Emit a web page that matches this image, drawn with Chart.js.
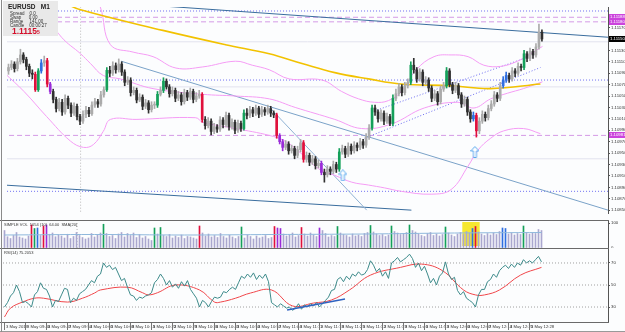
<!DOCTYPE html>
<html><head><meta charset="utf-8">
<script src="https://cdn.jsdelivr.net/npm/chart.js@4.4.1/dist/chart.umd.min.js"></script>
<style>
html,body{margin:0;padding:0;background:#fff;overflow:hidden}
#wrap{position:relative;width:625px;height:332px;background:#fcfdfe;overflow:hidden;font-family:"Liberation Sans",Arial,sans-serif}
#wrap canvas{position:absolute;left:0}
.hl{position:absolute;height:1px;background:#6a6a6a}
.vl{position:absolute;width:1px;background:#8a8a8a}
.txt{position:absolute;white-space:pre;color:#333;font-size:4.5px;line-height:5px}
#info{position:absolute;left:3px;top:1px;width:55px;height:35px;background:#e9e9e9}
</style></head><body>
<div id="wrap">
<canvas id="main" width="625" height="220" style="top:0"></canvas>
<canvas id="vol" width="625" height="27" style="top:221px"></canvas>
<canvas id="rsi" width="625" height="83" style="top:249px"></canvas>
<div class="hl" style="left:0;top:220px;width:609px"></div>
<div class="hl" style="left:0;top:248px;width:609px"></div>
<div class="hl" style="left:0;top:322px;width:609px"></div>
<div class="hl" style="left:0;top:331px;width:625px;background:#999"></div>
<div class="vl" style="left:1px;top:0;height:332px"></div>
<div id="info">
 <div class="txt" style="left:5px;top:2px;font-size:6.5px;line-height:7px;font-weight:bold;color:#222">EURUSD   M1</div>
 <div class="txt" style="left:7px;top:10px">Spread    0.0</div>
 <div class="txt" style="left:7px;top:14px">Swap      0.00</div>
 <div class="txt" style="left:7px;top:18px">Range     141.00</div>
 <div class="txt" style="left:7px;top:22px">Candle    00:00:27</div>
 <div class="txt" style="left:9px;top:26px;font-size:8.5px;line-height:9px;font-weight:bold;color:#d4102c">1.1115<span style="font-size:5px">5</span></div>
</div>
<div class="txt" style="left:4px;top:222px;font-size:4px">SIMPLE VOL  1054 (10)  64.00  SMA(20)</div>
<div class="txt" style="left:4px;top:250px;font-size:4px">RSI(14) 75.2053</div>
</div>
<script>
// ---------------- DATA ----------------
const opens = [1.11094,1.11100,1.11106,1.11098,1.11110,1.11122,1.11114,1.11102,1.11090,1.11088,
1.11061,1.11094,1.11108,1.11112,1.11071,1.11058,1.11044,1.11028,1.11039,1.11022,
1.11046,1.11034,1.11020,1.11032,1.11014,1.11006,1.11018,1.11025,1.11019,1.11034,
1.11040,1.11036,1.11052,1.11061,1.11095,1.11090,1.11103,1.11096,1.11106,1.11092,
1.11074,1.11078,1.11056,1.11060,1.11043,1.11048,1.11032,1.11038,1.11026,1.11034,
1.11034,1.11053,1.11060,1.11076,1.11066,1.11054,1.11060,1.11046,1.11052,1.11040,
1.11056,1.11048,1.11058,1.11044,1.11050,1.11053,1.11009,1.10998,1.11006,1.10988,
1.10996,1.10992,1.11008,1.11000,1.11016,1.10996,1.11004,1.10990,1.11002,1.10993,
1.11020,1.11016,1.11026,1.11020,1.11029,1.11018,1.11026,1.11022,1.11028,1.11020,
1.11017,1.10981,1.10970,1.10960,1.10966,1.10954,1.10958,1.10946,1.10956,1.10968,
1.10939,1.10946,1.10934,1.10940,1.10928,1.10932,1.10916,1.10912,1.10922,1.10918,
1.10930,1.10922,1.10952,1.10958,1.10948,1.10962,1.10954,1.10964,1.10960,1.10970,
1.10964,1.10978,1.10994,1.11029,1.11022,1.11010,1.11020,1.11006,1.11014,1.11002,
1.11046,1.11054,1.11066,1.11056,1.11068,1.11074,1.11104,1.11096,1.11080,1.11092,
1.11074,1.11078,1.11064,1.11046,1.11054,1.11040,1.11062,1.11068,1.11094,1.11070,
1.11060,1.11068,1.11052,1.11036,1.11044,1.11022,1.11010,1.11016,1.10989,1.11006,
1.11018,1.11012,1.11028,1.11036,1.11052,1.11046,1.11068,1.11078,1.11086,1.11080,
1.11094,1.11090,1.11102,1.11100,1.11124,1.11116,1.11128,1.11122,1.11136,1.11162];
const highs = [1.11106,1.11112,1.11110,1.11116,1.11132,1.11126,1.11118,1.11106,1.11096,1.11092,
1.11098,1.11114,1.11120,1.11116,1.11074,1.11062,1.11048,1.11046,1.11044,1.11052,
1.11050,1.11038,1.11038,1.11036,1.11018,1.11024,1.11032,1.11030,1.11040,1.11046,
1.11044,1.11058,1.11066,1.11100,1.11102,1.11110,1.11108,1.11115,1.11110,1.11096,
1.11084,1.11082,1.11066,1.11064,1.11054,1.11052,1.11044,1.11042,1.11040,1.11040,
1.11058,1.11066,1.11082,1.11080,1.11070,1.11066,1.11064,1.11058,1.11056,1.11062,
1.11060,1.11064,1.11062,1.11056,1.11060,1.11056,1.11014,1.11012,1.11010,1.11002,
1.11000,1.11014,1.11012,1.11022,1.11020,1.11010,1.11008,1.11008,1.11006,1.11026,
1.11028,1.11032,1.11030,1.11034,1.11032,1.11032,1.11030,1.11034,1.11032,1.11024,
1.11020,1.10984,1.10974,1.10972,1.10970,1.10964,1.10962,1.10962,1.10974,1.10972,
1.10952,1.10950,1.10946,1.10944,1.10938,1.10936,1.10922,1.10928,1.10926,1.10936,
1.10934,1.10958,1.10964,1.10962,1.10968,1.10966,1.10970,1.10968,1.10976,1.10974,
1.10984,1.11000,1.11034,1.11034,1.11026,1.11026,1.11024,1.11020,1.11018,1.11052,
1.11062,1.11072,1.11070,1.11074,1.11080,1.11110,1.11116,1.11100,1.11098,1.11096,
1.11084,1.11082,1.11068,1.11060,1.11058,1.11068,1.11074,1.11100,1.11098,1.11074,
1.11074,1.11072,1.11056,1.11050,1.11048,1.11026,1.11022,1.11020,1.11012,1.11024,
1.11022,1.11034,1.11042,1.11058,1.11056,1.11074,1.11084,1.11092,1.11090,1.11100,
1.11098,1.11108,1.11106,1.11130,1.11128,1.11134,1.11132,1.11142,1.11176,1.11166];
const lows = [1.11088,1.11096,1.11092,1.11094,1.11106,1.11108,1.11096,1.11084,1.11080,1.11058,
1.11058,1.11090,1.11102,1.11066,1.11054,1.11038,1.11022,1.11024,1.11016,1.11018,
1.11028,1.11014,1.11016,1.11008,1.11000,1.11002,1.11012,1.11014,1.11016,1.11030,
1.11030,1.11032,1.11048,1.11058,1.11084,1.11086,1.11090,1.11092,1.11086,1.11068,
1.11070,1.11050,1.11052,1.11038,1.11040,1.11026,1.11028,1.11020,1.11022,1.11028,
1.11030,1.11050,1.11056,1.11062,1.11048,1.11050,1.11040,1.11042,1.11034,1.11036,
1.11042,1.11044,1.11038,1.11040,1.11046,1.11004,1.10992,1.10994,1.10982,1.10984,
1.10986,1.10988,1.10994,1.10996,1.10990,1.10992,1.10984,1.10986,1.10988,1.10990,
1.11010,1.11012,1.11014,1.11016,1.11012,1.11014,1.11016,1.11018,1.11014,1.11012,
1.10976,1.10966,1.10954,1.10956,1.10948,1.10950,1.10940,1.10942,1.10952,1.10934,
1.10934,1.10928,1.10930,1.10922,1.10924,1.10912,1.10899,1.10908,1.10912,1.10914,
1.10916,1.10918,1.10948,1.10942,1.10944,1.10948,1.10950,1.10954,1.10956,1.10958,
1.10960,1.10974,1.10990,1.11016,1.11004,1.11006,1.11000,1.11002,1.10998,1.10998,
1.11042,1.11050,1.11050,1.11052,1.11064,1.11070,1.11090,1.11074,1.11076,1.11068,
1.11070,1.11058,1.11040,1.11042,1.11034,1.11036,1.11058,1.11064,1.11066,1.11054,
1.11056,1.11046,1.11030,1.11032,1.11016,1.11004,1.11006,1.10978,1.10984,1.11002,
1.11006,1.11008,1.11024,1.11032,1.11040,1.11042,1.11064,1.11074,1.11074,1.11076,
1.11084,1.11086,1.11094,1.11096,1.11110,1.11112,1.11116,1.11118,1.11132,1.11146];
const closes = [1.11100,1.11106,1.11098,1.11110,1.11122,1.11114,1.11102,1.11090,1.11088,1.11061,
1.11094,1.11108,1.11112,1.11071,1.11058,1.11044,1.11028,1.11039,1.11022,1.11046,
1.11034,1.11020,1.11032,1.11014,1.11006,1.11018,1.11025,1.11019,1.11034,1.11040,
1.11036,1.11052,1.11061,1.11095,1.11090,1.11103,1.11096,1.11106,1.11092,1.11074,
1.11078,1.11056,1.11060,1.11043,1.11048,1.11032,1.11038,1.11026,1.11034,1.11034,
1.11053,1.11060,1.11076,1.11066,1.11054,1.11060,1.11046,1.11052,1.11040,1.11056,
1.11048,1.11058,1.11044,1.11050,1.11053,1.11009,1.10998,1.11006,1.10988,1.10996,
1.10992,1.11008,1.11000,1.11016,1.10996,1.11004,1.10990,1.11002,1.10993,1.11020,
1.11016,1.11026,1.11020,1.11029,1.11018,1.11026,1.11022,1.11028,1.11020,1.11017,
1.10981,1.10970,1.10960,1.10966,1.10954,1.10958,1.10946,1.10956,1.10968,1.10939,
1.10946,1.10934,1.10940,1.10928,1.10932,1.10916,1.10912,1.10922,1.10918,1.10930,
1.10922,1.10952,1.10958,1.10948,1.10962,1.10954,1.10964,1.10960,1.10970,1.10964,
1.10978,1.10994,1.11029,1.11022,1.11010,1.11020,1.11006,1.11014,1.11002,1.11046,
1.11054,1.11066,1.11056,1.11068,1.11074,1.11104,1.11096,1.11080,1.11092,1.11074,
1.11078,1.11064,1.11046,1.11054,1.11040,1.11062,1.11068,1.11094,1.11070,1.11060,
1.11068,1.11052,1.11036,1.11044,1.11022,1.11010,1.11016,1.10989,1.11006,1.11018,
1.11012,1.11028,1.11036,1.11052,1.11046,1.11068,1.11078,1.11086,1.11080,1.11094,
1.11090,1.11102,1.11100,1.11124,1.11116,1.11128,1.11122,1.11136,1.11162,1.11150];
// signal-coloured bars (index -> signal type)
const signalBars = {9:'sell',10:'buy',11:'info',13:'sell',14:'warn',33:'buy',50:'buy',52:'buy',65:'sell',79:'buy',
90:'sell',91:'warn',92:'warn',99:'sell',105:'warn',111:'buy',122:'buy',129:'buy',135:'buy',147:'buy',
156:'info',157:'sell',166:'info',167:'info',173:'buy'};
const volumes = [70,45,38,50,62,44,40,36,48,92, 78,80,50,88,92,55,60,45,52,48,
40,55,38,46,62,50,42,36,40,58, 44,52,60,95,58,46,50,38,56,62,
44,58,50,60,42,54,40,46,36,30, 80,56,82,50,46,54,40,48,42,52,
38,46,44,40,36,88,60,48,56,44, 50,42,58,46,40,52,44,38,46,84,
40,52,46,36,48,40,44,50,38,42, 86,80,78,56,48,52,60,44,50,82,
56,48,60,52,46,80,70,58,44,50, 46,86,60,54,50,44,56,48,52,46,
58,62,90,64,56,50,54,46,52,88, 66,60,54,58,62,92,70,64,56,50,
46,58,62,50,56,48,54,84,60,52, 46,56,62,54,66,60,78,86,64,56,
50,58,52,60,54,66,80,78,56,60, 52,58,54,88,62,56,60,58,74,70];
const volumeMA = [[0,52],[30,54],[60,52],[90,54],[120,56],[150,60],[179,62]];
const volumeAlertZone = [152.6, 158.4];
const rsiValues = [30,34,40,43,50,44,34,35,33,30, 41,44,52,47,46,40,30,36,35,41,
47,46,34,38,36,42,44,46,50,54, 52,58,60,70,66,68,64,66,60,54,
56,48,41,40,36,39,38,40,41,43, 52,55,60,56,50,54,48,51,47,53,
49,54,46,42,38,30,36,34,30,35, 39,38,39,44,43,46,48,46,52,58,
56,60,57,61,55,59,56,60,53,34, 32,30,33,31,29,30,27,29,33,28,
32,30,33,31,34,30,33,36,39,45, 46,55,57,53,58,55,60,58,62,59,
60,64,72,68,62,65,58,62,56,70, 72,75,71,73,75,78,74,66,70,63,
67,60,52,56,50,58,61,71,60,55, 57,45,41,44,38,36,34,30,41,46,
46,53,55,60,57,63,66,68,65,69, 66,70,68,73,70,72,70,73,76,71];
const rsiMA = [[0,21],[2,29],[6,34.5],[10,38],[13,38],[21,34.5],[26,38],[30,42.7],[32,45.5],[41,48],[46,43],[48,41],[51,43],
[57,50],[65,45.5],[70,34.5],[72,34.5],[77,38],[82,42.7],[89,45.5],[96,31],[103,33.6],[109,36.4],[115,45.5],
[122,59],[132,66],[139,69],[146,63],[153,45.5],[157,41],[160,41],[165,45.5],[172,59],[179,66]];
const rsiLevels = [70, 50, 30];
const rsiTrend = [[94.2, 27.3], [113.5, 37.3]];
// overlays (bar index, price)
const ma200 = [[18.5,1.11214],[24.2,1.11201],[51.8,1.11165],[72.8,1.11140],[87.5,1.11124],[98.5,1.11107],[109.5,1.11091],[120.8,1.11080],[131.8,1.11071],[148.5,1.11068],[161.8,1.11063],[178.5,1.11071]];
const bbUpper = [[28.5,1.11222],[30.8,1.11206],[34.2,1.11140],[41.8,1.11127],[48.5,1.11119],[56.2,1.11099],[65.2,1.11101],[76.2,1.11111],[81.8,1.11104],[87.5,1.11096],[94.2,1.11080],[105.2,1.11078],[111.8,1.11058],[117.5,1.11045],[122.8,1.11039],[127.5,1.11042],[131.8,1.11058],[136.8,1.11096],[142.8,1.11119],[148.5,1.11122],[154.2,1.11119],[159.5,1.11104],[165.2,1.11102],[170.8,1.11111],[175.2,1.11124],[179.2,1.11137]];
const bbMiddle = [[8,1.11230],[11.8,1.11198],[17.8,1.11153],[24.2,1.11124],[27.5,1.11107],[31.8,1.11086],[37.5,1.11080],[48.5,1.11063],[65.2,1.11053],[76.2,1.11050],[87.5,1.11045],[96.2,1.11030],[109.5,1.11009],[118.5,1.10993],[128.5,1.11001],[139.5,1.11029],[150.8,1.11039],[156.2,1.11029],[161.8,1.11045],[167.5,1.11055],[172.8,1.11063],[179.2,1.11075]];
const bbLower = [[-1.5,1.11091],[5.2,1.11058],[12.8,1.11014],[20.8,1.10971],[25.2,1.10960],[28.5,1.10965],[31.8,1.10988],[34.2,1.11009],[42.8,1.11009],[62.8,1.11012],[65.2,1.11004],[76.2,1.10993],[87.5,1.10981],[92.8,1.10971],[98.5,1.10948],[104.2,1.10922],[109.5,1.10911],[115.2,1.10899],[120.8,1.10894],[126.2,1.10889],[131.8,1.10883],[141.8,1.10878],[148.5,1.10886],[154.2,1.10927],[157.5,1.10955],[161.8,1.10976],[166.2,1.10989],[172.8,1.10993],[178.5,1.10984]];
const trendLines = [
  [[40,1.11212],[201.2,1.11153]],
  [[37.8,1.11111],[201.2,1.10850]],
  [[87.8,1.11029],[120.2,1.10850]],
  [[-1.5,1.10894],[135.2,1.10850]]
];
const channelDots = [
  [[119.5,1.10976],[178.5,1.11100]],
  [[121.8,1.11022],[177.5,1.11124]]
];
const levelsDashed = [1.11188, 1.11180, 1.10981];
const levelsDotted = [1.11199, 1.11078, 1.10883];
const levelsSolid = [1.11145, 1.11066, 1.10940];
const signalArrows = [[112.2,1.10911],[156.5,1.10952]];
const separatorBar = 24.2;
const currentPrice = 1.11150;
const priceTicks = [1.10850,1.10870,1.10890,1.10910,1.10930,1.10950,1.10970,1.10990,1.11010,1.11030,1.11050,1.11070,1.11090,1.11110,1.11130,1.11150,1.11170,1.11190];
const timeLabelIdx = [0,7,14,21,28,35,42,49,56,63,70,77,84,91,98,105,112,119,126,133,140,147,154,161,168,175];
const timeLabels = ["3 May 2019","3 May 09:40","3 May 09:47","3 May 09:54","3 May 10:01","3 May 10:08","3 May 10:15","3 May 10:22","3 May 10:29","3 May 10:36","3 May 10:43","3 May 10:50","3 May 10:57","3 May 11:04","3 May 11:11","3 May 11:18","3 May 11:25","3 May 11:32","3 May 11:39","3 May 11:46","3 May 11:53","3 May 12:00","3 May 12:07","3 May 12:14","3 May 12:21","3 May 12:28"];

// ---------------- RENDER ----------------
Chart.defaults.font.family = '"Liberation Sans", Arial, sans-serif';
Chart.defaults.animation = false;
const XMIN = -0.5, XMAX = 201.17;
const sigColor = {sell:'#e0103c', buy:'#14a05a', info:'#2f6fe0', warn:'#9a2cd8'};
const bull = '#ababab', bear = '#303030';
const candleColors = closes.map((c,i)=> signalBars[i] ? sigColor[signalBars[i]] : (c>=opens[i]? bull : bear));
const pts = a => a.map(p=>({x:p[0], y:p[1]}));
const hLine = v => [{x:XMIN-2,y:v},{x:XMAX+2,y:v}];
function rightAxis(extra){
  return Object.assign({position:'right', grid:{display:true, drawOnChartArea:false, drawTicks:true, tickLength:2, color:'#555'},
    border:{display:true,color:'#555'},
    afterFit(s){ s.width = 17; s.paddingTop = 0; s.paddingBottom = 0; }}, extra);
}
const xHidden = {type:'linear', min:XMIN, max:XMAX, offset:false, display:false};
const lineDs = (data, color, w, extra) => Object.assign({type:'line', data, borderColor:color, borderWidth:w, pointRadius:0, fill:false}, extra||{});

// arrow image
const arrowImg = document.createElement('canvas'); arrowImg.width=9; arrowImg.height=12;
(function(){const c=arrowImg.getContext('2d'); c.beginPath(); c.moveTo(4.5,0.5); c.lineTo(8.5,5); c.lineTo(6,5); c.lineTo(6,11.5); c.lineTo(3,11.5); c.lineTo(3,5); c.lineTo(0.5,5); c.closePath(); c.fillStyle='#ffffff'; c.fill(); c.strokeStyle='#5aa8ee'; c.lineWidth=1; c.stroke();})();

const axisMarks = {id:'axisMarks', afterDraw(chart){
  const ys = chart.scales.y, ctx = chart.ctx;
  const items = [
    {v:levelsDashed[0], bg:'#cc44dd', fg:'#fff'},
    {v:levelsDashed[1], bg:'#cc44dd', fg:'#fff'},
    {v:levelsDashed[2], bg:'#cc44dd', fg:'#fff'},
    {v:currentPrice, bg:'#000', fg:'#fff'}];
  ctx.save();
  items.forEach(m=>{
    const y = Math.round(ys.getPixelForValue(m.v));
    ctx.fillStyle=m.bg; ctx.fillRect(609, y-3, 16, 6);
    ctx.fillStyle=m.fg; ctx.font='4.3px "Liberation Sans"'; ctx.textBaseline='middle'; ctx.textAlign='left';
    ctx.fillText(m.v.toFixed(5), 610, y);
  });
  ctx.restore();
}};

const mainDatasets = [
  {type:'bar', data: closes.map((c,i)=>({x:i, y:[opens[i], c]})), backgroundColor:candleColors, barThickness:2, minBarLength:1, grouped:false, order:1},
  {type:'bar', data: closes.map((c,i)=>({x:i, y:[lows[i], highs[i]]})), backgroundColor:candleColors, barThickness:1, grouped:false, order:2},
  lineDs(pts(ma200), '#f2c200', 1.6, {tension:0.4, order:3}),
  lineDs(pts(bbUpper), '#f59cf5', 1, {tension:0.4, order:4}),
  lineDs(pts(bbMiddle), '#f59cf5', 1, {tension:0.4, order:4}),
  lineDs(pts(bbLower), '#f59cf5', 1, {tension:0.4, order:4}),
  lineDs(pts(trendLines[0]), '#3a6d9e', 1, {order:5}),
  lineDs(pts(trendLines[1]), '#7aa2c8', 1, {order:5}),
  lineDs(pts(trendLines[2]), '#8fb2d4', 1, {order:5}),
  lineDs(pts(trendLines[3]), '#3a6d9e', 1, {order:5}),
  lineDs(pts(channelDots[0]), '#6a6af0', 1, {borderDash:[1,2], order:5}),
  lineDs(pts(channelDots[1]), '#6a6af0', 1, {borderDash:[1,2], order:5}),
  ...levelsDashed.map(v=>lineDs(hLine(v), '#d49ae6', 1, {borderDash:[5,3], order:6})),
  ...levelsDotted.map(v=>lineDs(hLine(v), '#6e6ef2', 1, {borderDash:[1,2], order:6})),
  ...levelsSolid.map(v=>lineDs(hLine(v), '#e2e2ee', 1, {order:7})),
  lineDs([{x:separatorBar,y:1.1080},{x:separatorBar,y:1.1125}], '#b8b8b8', 1, {borderDash:[1,2], order:7}),
  {type:'scatter', data: pts(signalArrows), pointStyle: arrowImg, pointRadius:6, order:0}
];

new Chart(document.getElementById('main'), {
  type:'bar',
  data:{datasets: mainDatasets},
  options:{responsive:false, animation:false, layout:{padding:{left:3,right:0,top:0,bottom:0}},
    plugins:{legend:{display:false}, tooltip:{enabled:false}},
    scales:{ x: xHidden,
      y: rightAxis({min:1.10845, max:1.11206, afterBuildTicks(s){ s.ticks = priceTicks.map(v=>({value:v})); },
        ticks:{font:{size:4.3}, color:'#333', padding:1, callback:v=>v.toFixed(5)}})}},
  plugins:[axisMarks]
});

const volColors = volumes.map((v,i)=> signalBars[i] ? sigColor[signalBars[i]] : '#aaa7cf');
const volZone = {id:'volZone', beforeDatasetsDraw(chart){
  const xs = chart.scales.x, a = chart.chartArea, ctx = chart.ctx;
  ctx.save(); ctx.fillStyle='#f6e830';
  const x0 = xs.getPixelForValue(volumeAlertZone[0]), x1 = xs.getPixelForValue(volumeAlertZone[1]);
  ctx.fillRect(x0, a.top+1, x1-x0, a.bottom-a.top-3); ctx.restore();
}};
new Chart(document.getElementById('vol'), {
  type:'bar',
  data:{datasets:[
    {type:'bar', data: volumes.map((v,i)=>({x:i,y:v})), backgroundColor:volColors, barThickness:1, grouped:false, order:2},
    lineDs(pts(volumeMA), '#8fb8dc', 1, {tension:0.4, order:1}),
    lineDs([{x:separatorBar,y:0},{x:separatorBar,y:110}], '#b8b8b8', 1, {borderDash:[1,2], order:3})
  ]},
  options:{responsive:false, animation:false, layout:{padding:{left:3,right:0,top:0,bottom:0}},
    plugins:{legend:{display:false}, tooltip:{enabled:false}},
    scales:{x: xHidden,
      y: rightAxis({min:0, max:108, afterBuildTicks(s){ s.ticks=[{value:0},{value:100}]; },
        ticks:{font:{size:4.3}, color:'#333', padding:1, callback:v=>String(v)}})}},
  plugins:[volZone]
});

const timeAxis = {id:'timeAxis', afterDraw(chart){
  const xs = chart.scales.x, ctx = chart.ctx, b = chart.chartArea.bottom;
  ctx.save(); ctx.strokeStyle='#777'; ctx.lineWidth=1; ctx.fillStyle='#333';
  ctx.font='4.2px "Liberation Sans"'; ctx.textBaseline='top'; ctx.textAlign='left';
  timeLabelIdx.forEach((v,k)=>{
    const x = Math.round(xs.getPixelForValue(v))+0.5;
    ctx.beginPath(); ctx.moveTo(x,b+1); ctx.lineTo(x,b+8); ctx.stroke();
    ctx.fillText(timeLabels[k], x+1.5, b+2.5);
  });
  ctx.restore();
}};
new Chart(document.getElementById('rsi'), {
  type:'line',
  data:{datasets:[
    lineDs(rsiValues.map((v,i)=>({x:i,y:v})), '#3c8a8a', 1, {order:1}),
    lineDs(pts(rsiMA), '#f0464a', 1, {tension:0.4, order:2}),
    lineDs(pts(rsiTrend), '#2f62c0', 1.5, {order:0}),
    ...rsiLevels.map(v=>lineDs(hLine(v), '#a0a0a0', 1, {borderDash:[1,2], order:5}))
  ]},
  options:{responsive:false, animation:false, layout:{padding:{left:3,right:0,top:0,bottom:0}},
    plugins:{legend:{display:false}, tooltip:{enabled:false}},
    scales:{
      x:{type:'linear', min:XMIN, max:XMAX, offset:false, grid:{display:false}, border:{display:false},
        ticks:{display:false},
        afterFit(s){ s.height = 10; s.paddingLeft=0; s.paddingRight=0; }},
      y: rightAxis({min:16.4, max:82.7, afterBuildTicks(s){ s.ticks = rsiLevels.map(v=>({value:v})); },
        ticks:{font:{size:4.3}, color:'#333', padding:1, callback:v=>String(v)}})}},
  plugins:[timeAxis]
});
</script>
</body></html>
